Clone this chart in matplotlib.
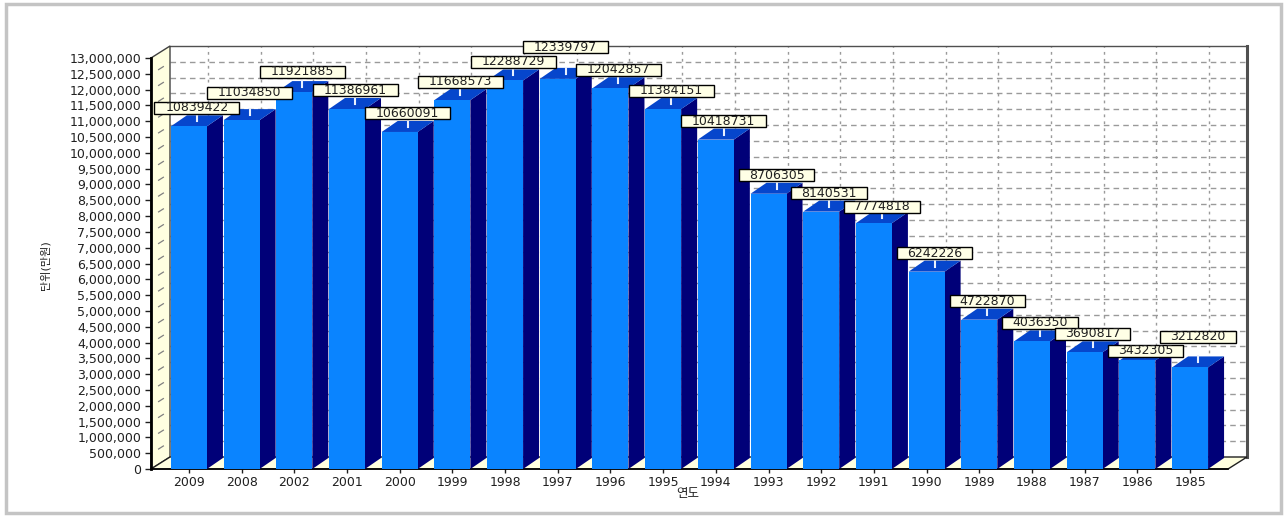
import matplotlib
matplotlib.use("Agg")
import matplotlib.pyplot as plt
from matplotlib.patches import Polygon, Rectangle
from matplotlib.ticker import FuncFormatter, MultipleLocator
import numpy as np

plt.rcParams['font.family'] = ['DejaVu Sans', 'Noto Sans CJK KR']

# yearly totals (unit: 만원)
years = ['2009', '2008', '2002', '2001', '2000', '1999', '1998', '1997', '1996', '1995',
         '1994', '1993', '1992', '1991', '1990', '1989', '1988', '1987', '1986', '1985']
amounts = [10839422, 11034850, 11921885, 11386961, 10660091, 11668573, 12288729, 12339797,
           12042857, 11384151, 10418731, 8706305, 8140531, 7774818, 6242226, 4722870,
           4036350, 3690817, 3432305, 3212820]

# extra lift (px) for value boxes that would otherwise collide
label_nudge = {'2008': 9, '2002': 2, '1997': 13, '1991': -2, '1986': -9, '1985': 12}

YMAX = 13000000
W, H = 1287, 517
fig = plt.figure(figsize=(W / 100, H / 100), dpi=100)
fig.patch.set_facecolor('white')

# front plane of the 3d box in pixels
x0, x1, ytop, ybot = 151, 1228, 58, 469
ax = fig.add_axes([x0 / W, (H - ybot) / H, (x1 - x0) / W, (ybot - ytop) / H])
xlo, xhi = -0.72, len(years) - 1 + 0.72
ax.set_xlim(xlo, xhi)
ax.set_ylim(0, YMAX)
for s in ax.spines.values():
    s.set_visible(False)
ax.patch.set_alpha(0)

pxx = (x1 - x0) / (xhi - xlo)          # pixels per category
pxy = (ybot - ytop) / YMAX             # pixels per unit


def dx(p):
    return p / pxx


def dy(p):
    return p / pxy


DX, DY = dx(19), dy(12)                # depth of the box
wall = '#FFFFE0'

# back wall with dashed grid
ax.add_patch(Rectangle((xlo + DX, DY), xhi - xlo, YMAX, fc='white', ec='none',
                       zorder=0, clip_on=False))
for v in range(500000, YMAX, 500000):
    ax.plot([xlo + DX, xhi + DX], [v + DY, v + DY], color='#9A9A9A', lw=1,
            ls=(0, (4, 3)), zorder=1, clip_on=False)
for i in range(len(years)):
    ax.plot([i + DX, i + DX], [DY, YMAX + DY], color='#9A9A9A', lw=1,
            ls=(0, (2, 3)), zorder=1, clip_on=False)
ax.plot([xlo + DX, xhi + DX], [YMAX + DY, YMAX + DY], color='#505050',
        lw=1, zorder=1, clip_on=False)
ax.plot([xhi + DX, xhi + DX], [DY, YMAX + DY], color='#505050', lw=2.2, zorder=1,
        clip_on=False)

# left wall
ax.add_patch(Polygon([(xlo, 0), (xlo + DX, DY), (xlo + DX, YMAX + DY), (xlo, YMAX)],
                     closed=True, fc=wall, ec='#404040', lw=1, zorder=1, clip_on=False))
for v in range(500000, YMAX, 500000):
    ax.plot([xlo + 0.4 * DX, xlo + 0.65 * DX], [v + 0.35 * DY, v + 0.6 * DY],
            color='#808080', lw=0.9, zorder=2, clip_on=False)

# floor
ax.add_patch(Polygon([(xlo, 0), (xhi, 0), (xhi + DX, DY), (xlo + DX, DY)],
                     closed=True, fc=wall, ec='#202020', lw=1, zorder=1, clip_on=False))
ax.plot([xlo, xlo], [0, YMAX], color='black', lw=2, zorder=2, clip_on=False)
ax.plot([xlo, xhi], [0, 0], color='black', lw=1.2, zorder=2, clip_on=False)

# 3d bars
hw = dx(18)
bdx, bdy = dx(16), dy(11)
for i, v in enumerate(amounts):
    l, r = i - hw, i + hw
    ax.add_patch(Polygon([(r, 0), (r + bdx, bdy), (r + bdx, v + bdy), (r, v)],
                         closed=True, fc='#000078', ec='none', zorder=3, clip_on=False))
    ax.add_patch(Polygon([(l, v), (r, v), (r + bdx, v + bdy), (l + bdx, v + bdy)],
                         closed=True, fc='#0646CC', ec='none', zorder=3, clip_on=False))
    ax.add_patch(Rectangle((l, 0), r - l, v, fc='#0A84FF', ec='none', zorder=4,
                           clip_on=False))

# value labels
for i, (yr, v) in enumerate(zip(years, amounts)):
    cx = i + bdx / 2
    top = v + bdy
    base = top + dy(1.5 + label_nudge.get(yr, 0))
    ax.plot([cx, cx], [top - dy(6), min(top, base)], color='#E8F0FF', lw=1.5,
            zorder=5, clip_on=False)
    txt = str(v)
    bw = dx(9.5 * len(txt) + 9)
    bh = dy(12)
    ax.add_patch(Rectangle((cx - bw / 2, base), bw, bh, fc='#FFFFE6', ec='black',
                           lw=1, zorder=6, clip_on=False))
    ax.text(cx, base + bh / 2, txt, ha='center', va='center', fontsize=9,
            color='#202020', zorder=7, clip_on=False)

# axes ticks and labels
ax.yaxis.set_major_locator(MultipleLocator(500000))
ax.yaxis.set_major_formatter(FuncFormatter(lambda v, p: f'{int(v):,}'))
ax.tick_params(axis='y', length=4, width=1, pad=3, labelsize=9, colors='#202020')
ax.set_xticks(np.arange(len(years)))
ax.set_xticklabels(years)
ax.tick_params(axis='x', length=3, width=1, pad=2, labelsize=9, colors='#202020')

fig.text(45 / W, 1 - 265 / H, '단위(만원)', rotation=90, ha='center', va='center',
         fontsize=8, color='#202020')
fig.text(688 / W, 1 - 493 / H, '연도', ha='center', va='center', fontsize=9,
         color='#202020')

# window frame
fig.patches.append(Rectangle((6 / W, 4 / H), 1275 / W, 509 / H, transform=fig.transFigure,
                             fc='none', ec='#C4C4C4', lw=2.5))

fig.savefig('out.png', dpi=100)
